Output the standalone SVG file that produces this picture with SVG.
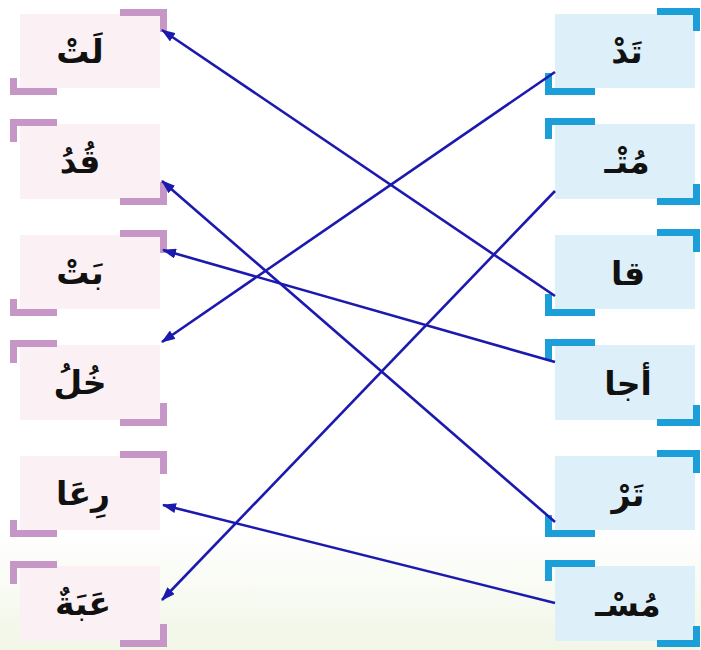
<svg xmlns="http://www.w3.org/2000/svg" width="701" height="650" viewBox="0 0 701 650">
<style>
.lf{fill:#FBF0F4}
.rf{fill:#DDEFF9}
.lb{fill:none;stroke:#C596C6;stroke-width:7}
.rb{fill:none;stroke:#1C9FD8;stroke-width:7}
.t{font-family:"DejaVu Sans",sans-serif;font-weight:bold;font-size:33px;fill:#111;text-anchor:middle}
.c{stroke:#1C1AAE;stroke-width:2.6;fill:none;marker-end:url(#ah)}
</style>
<defs>
<linearGradient id="bg" x1="0" y1="0" x2="0" y2="1">
<stop offset="0" stop-color="#FFFFFF"/>
<stop offset="0.82" stop-color="#FFFFFF"/>
<stop offset="1" stop-color="#F1F6E6"/>
</linearGradient>
<marker id="ah" viewBox="0 0 14 10" markerWidth="14" markerHeight="10" refX="13" refY="5" orient="auto" markerUnits="userSpaceOnUse">
<path d="M0,0 L14,5 L0,10 z" fill="#1C1AAE"/>
</marker>
</defs>
<rect x="0" y="0" width="701" height="650" fill="url(#bg)"/>

<g id="left1"><rect class="lf" x="20" y="14" width="140" height="74"/><path class="lb" d="M120,12.5 H163.5 V32"/><path class="lb" d="M13.5,78 V91.5 H57"/><text class="t" x="80" y="63">لَتْ</text></g>
<g id="left2"><rect class="lf" x="20" y="124" width="140" height="75"/><path class="lb" d="M57,122.5 H13.5 V142"/><path class="lb" d="M120,201.5 H163.5 V182"/><text class="t" x="80" y="173">قُدُ</text></g>
<g id="left3"><rect class="lf" x="20" y="235" width="140" height="74"/><path class="lb" d="M120,233.5 H163.5 V253"/><path class="lb" d="M13.5,299 V312.5 H57"/><text class="t" x="80" y="284">بَتْ</text></g>
<g id="left4"><rect class="lf" x="20" y="345" width="140" height="75"/><path class="lb" d="M57,343.5 H13.5 V363"/><path class="lb" d="M120,422.5 H163.5 V403"/><text class="t" x="80" y="394">خُلُ</text></g>
<g id="left5"><rect class="lf" x="20" y="456" width="140" height="74"/><path class="lb" d="M120,454.5 H163.5 V474"/><path class="lb" d="M13.5,520 V533.5 H57"/><text class="t" x="83" y="505">رِعَا</text></g>
<g id="left6"><rect class="lf" x="20" y="566" width="140" height="75"/><path class="lb" d="M57,564.5 H13.5 V584"/><path class="lb" d="M120,643.5 H163.5 V624"/><text class="t" x="83" y="615">عَبَةٌ</text></g>

<g id="right1"><rect class="rf" x="555" y="14" width="140" height="74"/><path class="rb" d="M657,11.5 H696.5 V31"/><path class="rb" d="M548.5,73 V91.5 H595"/><text class="t" x="627" y="63">تَدْ</text></g>
<g id="right2"><rect class="rf" x="555" y="124" width="140" height="75"/><path class="rb" d="M595,121.5 H548.5 V139"/><path class="rb" d="M657,201.5 H696.5 V184"/><text class="t" x="627" y="173">مُتْـ</text></g>
<g id="right3"><rect class="rf" x="555" y="235" width="140" height="74"/><path class="rb" d="M657,232.5 H696.5 V252"/><path class="rb" d="M548.5,294 V312.5 H595"/><text class="t" x="628" y="285">قا</text></g>
<g id="right4"><rect class="rf" x="555" y="345" width="140" height="75"/><path class="rb" d="M595,342.5 H548.5 V360"/><path class="rb" d="M657,422.5 H696.5 V405"/><text class="t" x="628" y="395">أجا</text></g>
<g id="right5"><rect class="rf" x="555" y="456" width="140" height="74"/><path class="rb" d="M657,453.5 H696.5 V473"/><path class="rb" d="M548.5,515 V533.5 H595"/><text class="t" x="628" y="506">تَرْ</text></g>
<g id="right6"><rect class="rf" x="555" y="566" width="140" height="75"/><path class="rb" d="M595,563.5 H548.5 V581"/><path class="rb" d="M657,643.5 H696.5 V626"/><text class="t" x="628" y="616">مُسْـ</text></g>

<g id="connectors">
<line class="c" x1="555" y1="72" x2="162" y2="342"/>
<line class="c" x1="555" y1="191" x2="162" y2="600"/>
<line class="c" x1="555" y1="296" x2="162" y2="30"/>
<line class="c" x1="555" y1="362" x2="163" y2="250"/>
<line class="c" x1="555" y1="522" x2="162" y2="181"/>
<line class="c" x1="555" y1="603" x2="163" y2="505"/>
</g>
</svg>
